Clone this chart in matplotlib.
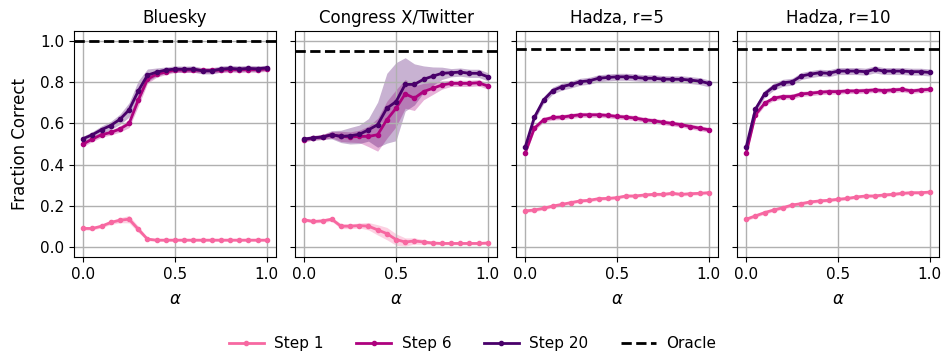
import numpy as np
import matplotlib
matplotlib.use("Agg")
import matplotlib.pyplot as plt

alpha = np.round(np.linspace(0, 1, 21), 2)

titles = ["Bluesky", "Congress X/Twitter", "Hadza, r=5", "Hadza, r=10"]
oracle = [1.0, 0.953, 0.963, 0.963]

# Mean fraction correct per step, one list per dataset
bluesky_s1 = [0.089, 0.089, 0.100, 0.118, 0.129, 0.134, 0.085, 0.037, 0.032, 0.032, 0.032,
              0.032, 0.032, 0.032, 0.032, 0.032, 0.032, 0.032, 0.032, 0.032, 0.032]
bluesky_s6 = [0.500, 0.524, 0.545, 0.556, 0.573, 0.600, 0.714, 0.815, 0.840, 0.850, 0.860,
              0.860, 0.860, 0.858, 0.858, 0.860, 0.862, 0.862, 0.862, 0.862, 0.865]
bluesky_s20 = [0.526, 0.545, 0.570, 0.590, 0.620, 0.666, 0.758, 0.835, 0.850, 0.860, 0.865,
               0.864, 0.865, 0.856, 0.856, 0.865, 0.868, 0.865, 0.868, 0.866, 0.871]

congress_s1 = [0.131, 0.123, 0.126, 0.134, 0.100, 0.100, 0.103, 0.100, 0.082, 0.064, 0.035,
               0.023, 0.028, 0.023, 0.018, 0.016, 0.016, 0.016, 0.016, 0.016, 0.018]
congress_s6 = [0.521, 0.530, 0.534, 0.545, 0.537, 0.534, 0.537, 0.537, 0.545, 0.618, 0.674,
               0.744, 0.723, 0.755, 0.771, 0.787, 0.795, 0.795, 0.795, 0.798, 0.782]
congress_s20 = [0.524, 0.530, 0.534, 0.545, 0.537, 0.540, 0.547, 0.569, 0.594, 0.674, 0.706,
                0.790, 0.790, 0.815, 0.830, 0.844, 0.847, 0.850, 0.844, 0.844, 0.827]

hadza5_s1 = [0.174, 0.179, 0.187, 0.198, 0.206, 0.215, 0.223, 0.226, 0.234, 0.235, 0.239,
             0.247, 0.247, 0.252, 0.255, 0.255, 0.260, 0.255, 0.258, 0.260, 0.263]
hadza5_s6 = [0.456, 0.577, 0.618, 0.629, 0.631, 0.637, 0.642, 0.642, 0.642, 0.639, 0.634,
             0.631, 0.626, 0.618, 0.613, 0.606, 0.600, 0.594, 0.585, 0.577, 0.569]
hadza5_s20 = [0.485, 0.630, 0.714, 0.760, 0.779, 0.790, 0.803, 0.808, 0.820, 0.824, 0.827,
              0.827, 0.824, 0.820, 0.820, 0.816, 0.815, 0.815, 0.811, 0.806, 0.795]

hadza10_s1 = [0.134, 0.150, 0.166, 0.179, 0.190, 0.203, 0.210, 0.218, 0.223, 0.226, 0.231,
              0.235, 0.242, 0.247, 0.247, 0.252, 0.255, 0.260, 0.263, 0.263, 0.266]
hadza10_s6 = [0.456, 0.642, 0.698, 0.723, 0.731, 0.731, 0.744, 0.747, 0.752, 0.755, 0.755,
              0.758, 0.758, 0.760, 0.763, 0.760, 0.763, 0.766, 0.758, 0.763, 0.766]
hadza10_s20 = [0.485, 0.669, 0.744, 0.779, 0.798, 0.803, 0.831, 0.840, 0.847, 0.844, 0.855,
               0.855, 0.855, 0.852, 0.863, 0.855, 0.855, 0.855, 0.852, 0.852, 0.848]

# Half-width of the shaded spread around each mean
bluesky_e1 = [0.008, 0.008, 0.008, 0.010, 0.012, 0.018, 0.015, 0.008, 0.005, 0.005, 0.005,
              0.005, 0.005, 0.005, 0.005, 0.005, 0.005, 0.005, 0.005, 0.005, 0.005]
bluesky_e6 = [0.012, 0.012, 0.012, 0.012, 0.015, 0.020, 0.030, 0.020, 0.015, 0.012, 0.012,
              0.012, 0.012, 0.012, 0.012, 0.012, 0.012, 0.012, 0.012, 0.012, 0.012]
bluesky_e20 = [0.012, 0.015, 0.018, 0.020, 0.025, 0.035, 0.050, 0.030, 0.020, 0.015, 0.015,
               0.015, 0.015, 0.015, 0.015, 0.015, 0.015, 0.015, 0.015, 0.015, 0.012]

congress_e1 = [0.008, 0.008, 0.008, 0.010, 0.012, 0.012, 0.012, 0.018, 0.025, 0.030, 0.028,
               0.020, 0.015, 0.012, 0.008, 0.006, 0.006, 0.006, 0.006, 0.006, 0.006]
congress_e6 = [0.010, 0.010, 0.012, 0.015, 0.025, 0.025, 0.030, 0.050, 0.080, 0.090, 0.090,
               0.070, 0.060, 0.040, 0.030, 0.020, 0.015, 0.015, 0.015, 0.015, 0.015]
congress_e20 = [0.010, 0.012, 0.012, 0.020, 0.030, 0.040, 0.045, 0.055, 0.110, 0.170, 0.190,
                0.130, 0.100, 0.065, 0.045, 0.030, 0.020, 0.020, 0.020, 0.020, 0.020]

hadza5_e1 = [0.008] * 21
hadza5_e6 = [0.012] * 21
hadza5_e20 = [0.017] * 21
hadza10_e1 = [0.008] * 21
hadza10_e6 = [0.012] * 21
hadza10_e20 = [0.017] * 21

means = [
    [bluesky_s1, bluesky_s6, bluesky_s20],
    [congress_s1, congress_s6, congress_s20],
    [hadza5_s1, hadza5_s6, hadza5_s20],
    [hadza10_s1, hadza10_s6, hadza10_s20],
]
spreads = [
    [bluesky_e1, bluesky_e6, bluesky_e20],
    [congress_e1, congress_e6, congress_e20],
    [hadza5_e1, hadza5_e6, hadza5_e20],
    [hadza10_e1, hadza10_e6, hadza10_e20],
]

step_labels = ["Step 1", "Step 6", "Step 20"]
step_colors = ["#f768a1", "#ae017e", "#49006a"]

fig, axes = plt.subplots(1, 4, figsize=(9.45, 3.51), dpi=100, sharey=True)
fig.subplots_adjust(left=0.0783, right=0.9937, top=0.9117, bottom=0.2678, wspace=0.094)

for i, ax in enumerate(axes):
    for m, e, lab, col in zip(means[i], spreads[i], step_labels, step_colors):
        m = np.asarray(m)
        e = np.asarray(e)
        ax.fill_between(alpha, m - e, m + e, color=col, alpha=0.3, linewidth=0)
        ax.plot(alpha, m, color=col, lw=2, marker="o", ms=3, label=lab)
    ax.axhline(oracle[i], color="black", ls="--", lw=2, label="Oracle")
    ax.set_title(titles[i], fontsize=12)
    ax.set_xlabel(r"$\alpha$", fontsize=12, labelpad=6)
    ax.set_xlim(-0.05, 1.05)
    ax.set_ylim(-0.05, 1.05)
    ax.set_xticks([0.0, 0.5, 1.0])
    ax.set_yticks([0.0, 0.2, 0.4, 0.6, 0.8, 1.0])
    ax.grid(True, color="#b0b0b0", lw=1)
    ax.tick_params(labelsize=11)

axes[0].set_ylabel("Fraction Correct", fontsize=12, labelpad=8)

handles, labels = axes[0].get_legend_handles_labels()
fig.legend(handles, labels, loc="lower center", ncol=4, frameon=False,
           fontsize=11, bbox_to_anchor=(0.5, -0.04), columnspacing=2.1,
           handlelength=2.3, handletextpad=0.7)

fig.savefig("out.png", dpi=100)
